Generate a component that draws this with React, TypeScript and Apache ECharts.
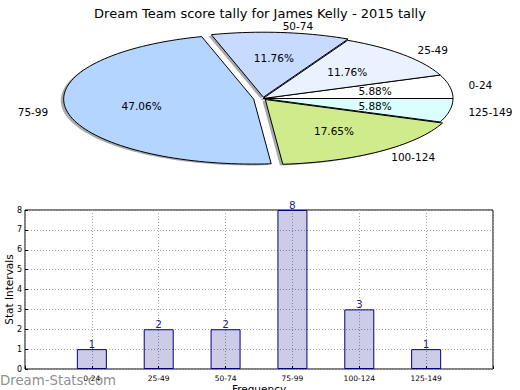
import React, { useEffect, useRef } from "react";
import * as echarts from "echarts";

const chartTitle = "Dream Team score tally for James Kelly - 2015 tally";
const categories = ["0-24", "25-49", "50-74", "75-99", "100-124", "125-149"];
const counts = [1, 2, 2, 8, 3, 1];
const pieColors = ["#ffffff", "#eaf1ff", "#c6dbff", "#b4d5ff", "#d0eb8b", "#dbffff"];
const explode = [0, 0, 0.02, 0.05, 0.02, 0];
const yTickMin = 0;
const yTickMax = 8;
const yTickStep = 1;
const xAxisName = "Frequency";
const yAxisName = "Stat Intervals";
const watermark = "Dream-Stats.com";

const FONT = "DejaVu Sans";
const PIE_CX = 263;
const PIE_CY = 98.5;
const PIE_R = 190;
const PIE_K = 65 / 190;

function arcPoints(ox: number, oy: number, a1: number, a2: number) {
  const pts: number[][] = [[ox, oy]];
  const n = Math.max(8, Math.ceil(((a2 - a1) / (2 * Math.PI)) * 180));
  for (let j = 0; j <= n; j++) {
    const a = a1 + ((a2 - a1) * j) / n;
    pts.push([ox + PIE_R * Math.cos(a), oy - PIE_R * PIE_K * Math.sin(a)]);
  }
  return pts;
}

export default function App() {
  const ref = useRef<HTMLDivElement>(null);
  useEffect(() => {
    if (!ref.current) return;
    const chart = echarts.init(ref.current, null, { renderer: "svg" });
    const total = counts.reduce((a, b) => a + b, 0);

    const renderPie = (params: any, api: any) => {
      const i = params.dataIndex;
      const v = api.value(0);
      const before = counts.slice(0, i).reduce((a, b) => a + b, 0);
      const a1 = (before / total) * 2 * Math.PI;
      const a2 = ((before + v) / total) * 2 * Math.PI;
      const mid = (a1 + a2) / 2;
      const e = explode[i];
      const ox = PIE_CX + e * PIE_R * Math.cos(mid);
      const oy = PIE_CY - e * PIE_R * PIE_K * Math.sin(mid);
      const c = Math.cos(mid);
      const s = Math.sin(mid);
      const pct = ((v / total) * 100).toFixed(2) + "%";
      return {
        type: "group",
        children: [
          {
            type: "polygon",
            z2: 1,
            shape: { points: arcPoints(ox - 0.015 * PIE_R, oy + 0.02 * PIE_R * PIE_K, a1, a2) },
            style: { fill: "rgba(60,64,70,0.45)", stroke: "none" },
          },
          {
            type: "polygon",
            z2: 10,
            shape: { points: arcPoints(ox, oy, a1, a2) },
            style: { fill: pieColors[i], stroke: "#000", lineWidth: 1, lineJoin: "miter" },
          },
          {
            type: "text",
            z2: 20,
            x: ox + 1.1 * PIE_R * c,
            y: oy - 1.1 * PIE_R * PIE_K * s,
            style: {
              text: categories[i],
              fill: "#000",
              fontSize: 10.5,
              fontFamily: FONT,
              align: c > 0 ? "left" : "right",
              verticalAlign: "middle",
            },
          },
          {
            type: "text",
            z2: 20,
            x: ox + 0.6 * PIE_R * c,
            y: oy - 0.6 * PIE_R * PIE_K * s,
            style: {
              text: pct,
              fill: "#000",
              fontSize: 10.5,
              fontFamily: FONT,
              align: "center",
              verticalAlign: "middle",
            },
          },
        ],
      };
    };

    chart.setOption({
      animation: false,
      backgroundColor: "#ffffff",
      title: {
        text: chartTitle,
        left: "center",
        top: 2,
        textStyle: { fontSize: 13, fontWeight: "normal", color: "#000", fontFamily: FONT },
      },
      grid: {
        left: 25,
        top: 210,
        width: 468,
        height: 159,
        show: true,
        borderColor: "#000",
        borderWidth: 1,
        backgroundColor: "transparent",
        outerBoundsMode: "none",
        containLabel: false,
      },
      xAxis: {
        type: "category",
        data: ["", ...categories, ""],
        boundaryGap: false,
        axisLine: { show: false },
        axisTick: { show: true, inside: true, length: 3, lineStyle: { color: "#000" } },
        axisLabel: { fontSize: 7.5, color: "#000", fontFamily: FONT, margin: 5, interval: 0 },
        splitLine: { show: true, lineStyle: { type: [1, 2], color: "#a0a0a0", width: 1 } },
        name: xAxisName,
        nameLocation: "middle",
        nameGap: 14,
        nameMoveOverlap: false,
        nameTextStyle: { fontSize: 10.5, color: "#000", fontFamily: FONT },
      },
      yAxis: {
        type: "value",
        min: yTickMin,
        max: yTickMax,
        interval: yTickStep,
        axisLine: { show: false },
        axisTick: { show: true, inside: true, length: 3, lineStyle: { color: "#000" } },
        axisLabel: { fontSize: 8, color: "#000", fontFamily: FONT, margin: 3 },
        splitLine: { show: true, lineStyle: { type: [1, 2], color: "#a0a0a0", width: 1 } },
        name: yAxisName,
        nameLocation: "middle",
        nameGap: 11,
        nameMoveOverlap: false,
        nameRotate: 90,
        nameTextStyle: { fontSize: 10.5, color: "#000", fontFamily: FONT },
      },
      series: [
        {
          type: "custom",
          coordinateSystem: "none",
          data: counts,
          renderItem: renderPie,
          silent: true,
        },
        {
          type: "bar",
          data: counts.map((v, i) => [categories[i], v]),
          barWidth: 30,
          itemStyle: { color: "rgba(0,0,128,0.2)", borderColor: "#00007f", borderWidth: 1 },
          label: {
            show: true,
            position: "top",
            distance: 0,
            color: "#1f1f99",
            fontSize: 10.5,
            fontFamily: FONT,
          },
        },
      ],
      graphic: [
        {
          type: "text",
          left: 0,
          top: 374,
          z: 100,
          style: { text: watermark, fill: "rgba(128,128,128,0.9)", fontSize: 13.3, fontFamily: FONT },
        },
      ],
    });
    return () => chart.dispose();
  }, []);
  return <div ref={ref} style={{ position: "fixed", left: 0, top: 0, width: 520, height: 390 }} />;
}
